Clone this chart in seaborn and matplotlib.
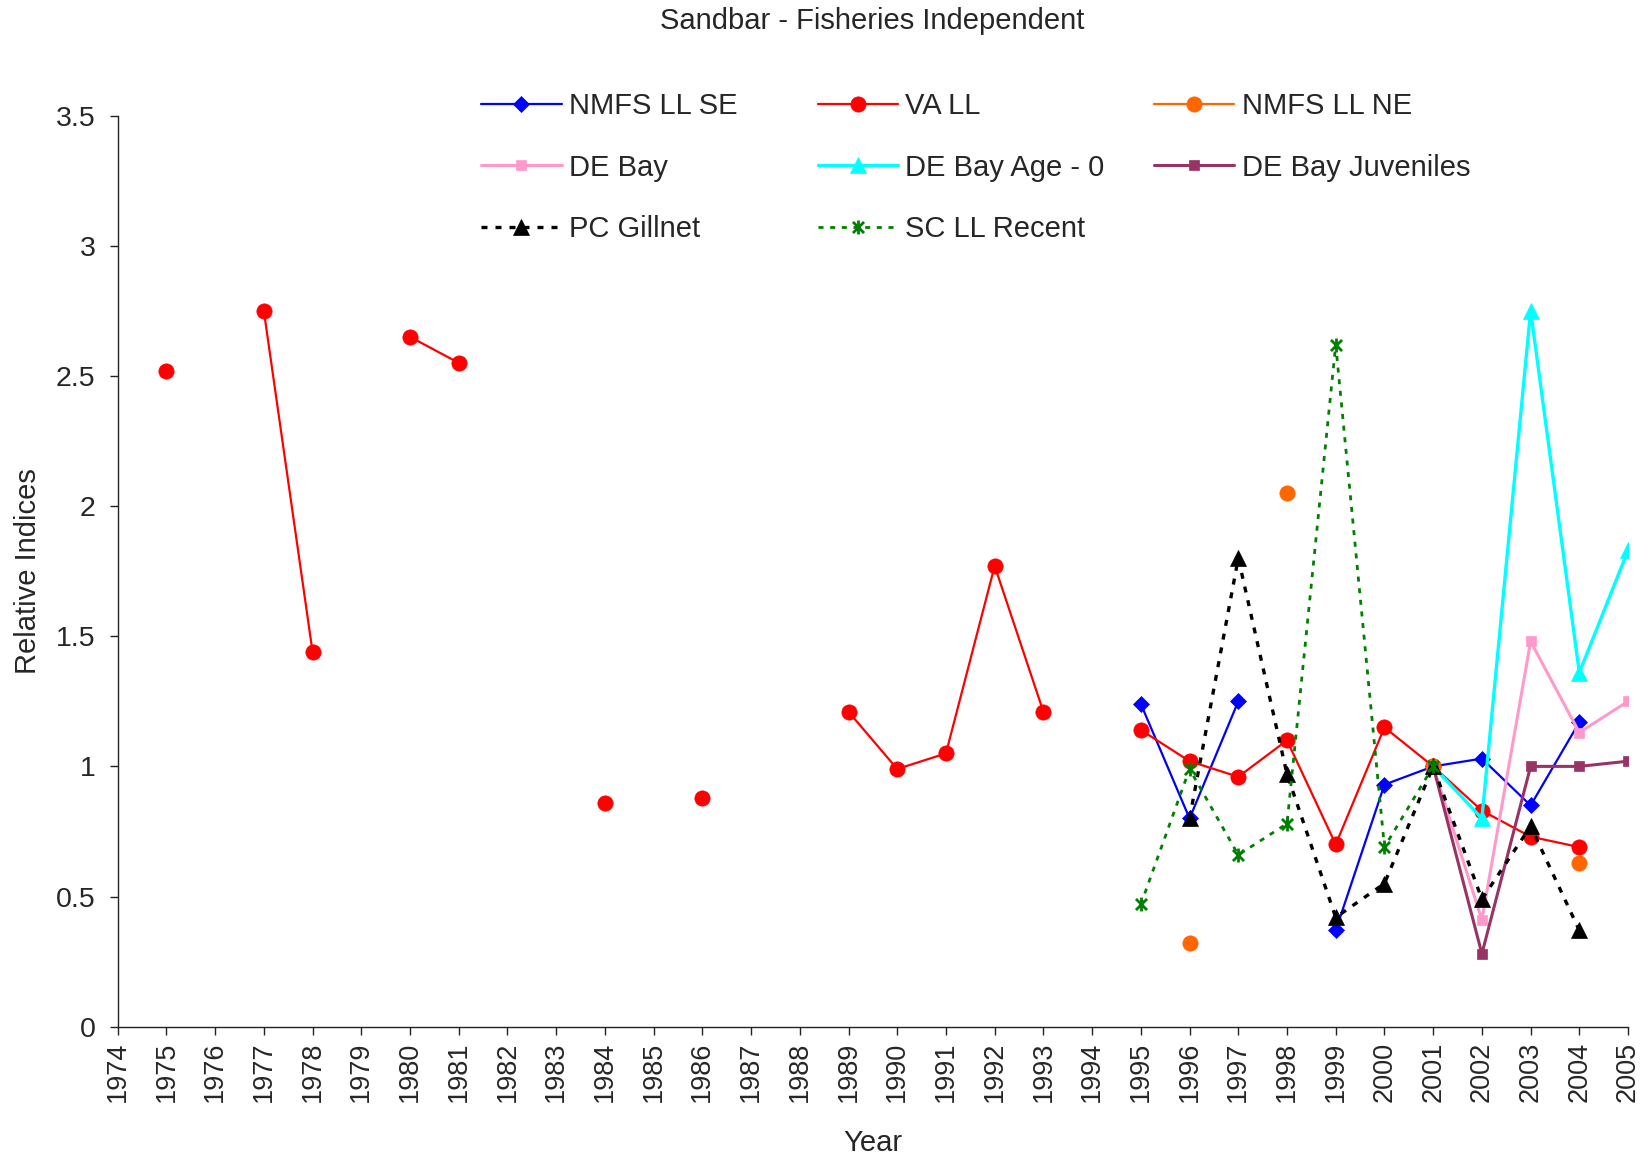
import numpy as np
import pandas as pd
import matplotlib
matplotlib.use("Agg")
import matplotlib.pyplot as plt
from matplotlib.lines import Line2D
from matplotlib.path import Path
import seaborn as sns

# ---- data -------------------------------------------------------------
years = list(range(1974, 2006))
nan = np.nan

va_ll = {1975: 2.52, 1977: 2.75, 1978: 1.44, 1980: 2.65, 1981: 2.55,
         1984: 0.86, 1986: 0.88, 1989: 1.21, 1990: 0.99, 1991: 1.05,
         1992: 1.77, 1993: 1.21, 1995: 1.14, 1996: 1.02, 1997: 0.96,
         1998: 1.10, 1999: 0.70, 2000: 1.15, 2001: 1.00, 2002: 0.83,
         2003: 0.73, 2004: 0.69}
nmfs_ll_se = {1995: 1.24, 1996: 0.80, 1997: 1.25, 1999: 0.37, 2000: 0.93,
              2001: 1.00, 2002: 1.03, 2003: 0.85, 2004: 1.17}
nmfs_ll_ne = {1996: 0.32, 1998: 2.05, 2001: 1.00, 2004: 0.63}
de_bay = {2001: 1.00, 2002: 0.41, 2003: 1.48, 2004: 1.13, 2005: 1.25}
de_bay_age0 = {2001: 1.00, 2002: 0.80, 2003: 2.75, 2004: 1.36, 2005: 1.83}
de_bay_juv = {2001: 1.00, 2002: 0.28, 2003: 1.00, 2004: 1.00, 2005: 1.02}
pc_gillnet = {1996: 0.80, 1997: 1.80, 1998: 0.97, 1999: 0.42, 2000: 0.55,
              2001: 1.00, 2002: 0.49, 2003: 0.77, 2004: 0.37}
sc_ll_recent = {1995: 0.47, 1996: 0.99, 1997: 0.66, 1998: 0.78, 1999: 2.62,
                2000: 0.69, 2001: 1.00}

y_ticks = [0, 0.5, 1, 1.5, 2, 2.5, 3, 3.5]
y_tick_labels = ["0", "0.5", "1", "1.5", "2", "2.5", "3", "3.5"]

# ---- styling ----------------------------------------------------------
sns.set_theme(style="ticks")
plt.rcParams["font.family"] = ["Liberation Sans", "DejaVu Sans"]
FS = 21

# six-armed asterisk marker (x with a vertical bar)
star = Path([(-1, -1), (1, 1), (-1, 1), (1, -1), (0, -1.25), (0, 1.25)],
            [Path.MOVETO, Path.LINETO, Path.MOVETO, Path.LINETO,
             Path.MOVETO, Path.LINETO])

dotted = (0, (1.8, 2.4))
series = [
    # label, data, color, marker, markersize, linewidth, linestyle
    ("NMFS LL SE", nmfs_ll_se, "#0000FF", "D", 8, 1.6, "-"),
    ("VA LL", va_ll, "#FF0000", "o", 11, 1.6, "-"),
    ("NMFS LL NE", nmfs_ll_ne, "#FF6600", "o", 11, 1.6, "-"),
    ("DE Bay", de_bay, "#FF99CC", "s", 6.5, 2.2, "-"),
    ("DE Bay Age - 0", de_bay_age0, "#00FFFF", "^", 11, 2.4, "-"),
    ("DE Bay Juveniles", de_bay_juv, "#993366", "s", 6.5, 2.2, "-"),
    ("PC Gillnet", pc_gillnet, "#000000", "^", 11, 2.4, dotted),
    ("SC LL Recent", sc_ll_recent, "#008000", star, 10, 2.0, dotted),
]

fig = plt.figure(figsize=(16.48, 11.57), dpi=100)
ax = fig.add_axes([0.0714, 0.1126, 0.9165, 0.7875])


def runs(values):
    """Split a year->value mapping into runs of consecutive years."""
    s = pd.Series([values.get(y, nan) for y in years], index=years)
    present = s.notna()
    group = (~present).cumsum()
    return [chunk for _, chunk in s[present].groupby(group[present])]


handles = []
for label, data, color, marker, ms, lw, ls in series:
    is_star = not isinstance(marker, str)
    style = dict(color=color, linewidth=lw, linestyle=ls, marker=marker,
                 markersize=ms,
                 markerfacecolor="none" if is_star else color,
                 markeredgecolor=color,
                 markeredgewidth=2.0 if is_star else 0.5)
    for chunk in runs(data):
        df = pd.DataFrame({"Year": chunk.index, "Index": chunk.values})
        sns.lineplot(data=df, x="Year", y="Index", ax=ax, estimator=None,
                     sort=False, legend=False, zorder=3, **style)
    handles.append(Line2D([], [], label=label, **style))

# ---- axes -------------------------------------------------------------
ax.set_xlim(1974, 2005)
ax.set_ylim(0, 3.5)
ax.set_xticks(years)
ax.set_xticklabels([str(y) for y in years], rotation=90, fontsize=19.5)
ax.set_yticks(y_ticks)
ax.set_yticklabels(y_tick_labels, fontsize=20.5)
ax.tick_params(axis="both", direction="out", length=6, width=1,
               color="#222222", pad=5)
ax.tick_params(axis="y", pad=10)
for side in ("top", "right"):
    ax.spines[side].set_visible(False)
for side in ("left", "bottom"):
    ax.spines[side].set_color("#222222")
    ax.spines[side].set_linewidth(1.0)
ax.grid(False)
ax.set_xlabel("Year", fontsize=FS, labelpad=19)
ax.set_ylabel("Relative Indices", fontsize=FS, labelpad=10)

fig.text(0.5293, 0.9815, "Sandbar - Fisheries Independent", fontsize=FS,
         ha="center", va="center")

# legend laid out in three fixed columns, filled row by row
col_x = [0.2921, 0.4962, 0.7003]
columns = [[0, 3, 6], [1, 4, 7], [2, 5]]
for cx, idx in zip(col_x, columns):
    fig.legend(handles=[handles[i] for i in idx], loc="upper left",
               bbox_to_anchor=(cx, 0.9205), frameon=False, fontsize=FS,
               handlelength=2.75, handletextpad=0.25, labelspacing=1.15,
               borderpad=0, borderaxespad=0)

fig.savefig("out.png", dpi=100)
